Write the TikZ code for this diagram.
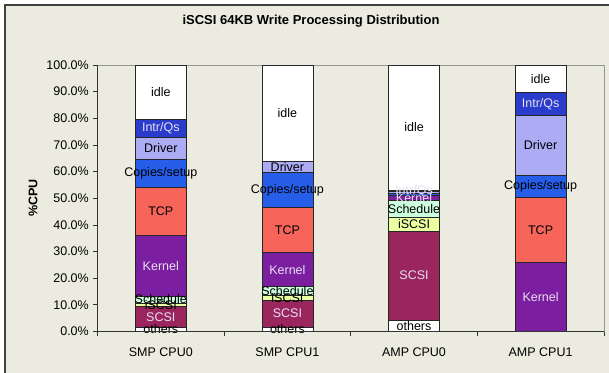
\documentclass[tikz,border=0pt]{standalone}
\usepackage{fontspec}
\setmainfont{Liberation Sans}

\definecolor{bgbeige}{RGB}{236,235,223}
\definecolor{frameline}{RGB}{64,64,64}
\definecolor{plotedge}{RGB}{150,150,150}
\definecolor{cIdle}{RGB}{255,255,255}
\definecolor{cIntr}{RGB}{42,60,204}
\definecolor{cDriver}{RGB}{172,172,245}
\definecolor{cCopies}{RGB}{38,94,234}
\definecolor{cTCP}{RGB}{247,100,90}
\definecolor{cKernel}{RGB}{124,30,160}
\definecolor{cSched}{RGB}{204,255,222}
\definecolor{cISCSI}{RGB}{236,255,160}
\definecolor{cSCSI}{RGB}{155,38,94}
\definecolor{cOthers}{RGB}{255,255,255}
\definecolor{lightlab}{RGB}{232,224,242}

% one stacked column: name, centre x, list of lo/hi/fill/label/text colour (percent)
\newcommand\stackbar[3]{%
  \foreach \lo/\hi/\fc/\lab/\tc in {#3}{%
    \draw[segment, fill=\fc] (#2-25.5,{331.5-2.665*\lo}) rectangle (#2+25.5,{331.5-2.665*\hi});
  }%
  \foreach \lo/\hi/\fc/\lab/\tc [count=\k] in {#3}{%
    \node[seglabel, text=\tc] (#1-\k) at (#2,{331.5-2.665*(\lo+\hi)/2}) {\lab};
  }%
}

\begin{document}
\begin{tikzpicture}[x=1pt,y=-1pt,
  segment/.style={draw=black!85, line width=0.8pt},
  seglabel/.style={font=\fontsize{12.5}{14}\selectfont, inner sep=0pt},
  ticklabel/.style={font=\fontsize{12.5}{14}\selectfont, inner sep=0pt},
  axisline/.style={draw=black!80, line width=0.8pt}]

% page and chart frame
\fill[white] (0,0) rectangle (609,372);
\useasboundingbox (0,0) rectangle (609,372);
\fill[bgbeige] (5,5) rectangle (615,378);
\draw[frameline, line width=1.5pt] (5,378) -- (5,5) -- (615,5);

% title and axis title
\node[font=\bfseries\fontsize{13}{15}\selectfont] (title) at (311,21) {iSCSI 64KB Write Processing Distribution};
\node[font=\bfseries\fontsize{12.5}{14}\selectfont, rotate=90] (ytitle) at (33,198) {\%CPU};

% plot area edges
\draw[plotedge, line width=0.8pt] (97.5,65) -- (604,65) -- (604,331.5);

% value axis
\draw[axisline] (97.5,65) -- (97.5,331.5);
\foreach \p in {0,10,...,100}{%
  \draw[axisline] (93,{331.5-2.665*\p}) -- (97.5,{331.5-2.665*\p});
  \node[ticklabel, anchor=east] (yl\p) at (89,{331.5-2.665*\p}) {\p.0\%};
}

% columns
\stackbar{smpa}{160.8}{0/1.7/cOthers/others/black,
  1.7/9.3/cSCSI/SCSI/lightlab,
  9.3/10.7/cISCSI/iSCSI/black,
  10.7/13.3/cSched/Schedule/black,
  13.3/36.1/cKernel/Kernel/lightlab,
  36.1/54.2/cTCP/TCP/black,
  54.2/64.7/cCopies/{Copies/setup}/black,
  64.7/72.7/cDriver/Driver/black,
  72.7/79.7/cIntr/{Intr/Qs}/lightlab,
  79.7/100/cIdle/idle/black}

\stackbar{smpb}{287.4}{0/1.6/cOthers/others/black,
  1.6/11.8/cSCSI/SCSI/lightlab,
  11.8/13.4/cISCSI/iSCSI/black,
  13.4/16.9/cSched/Schedule/black,
  16.9/29.6/cKernel/Kernel/lightlab,
  29.6/46.6/cTCP/TCP/black,
  46.6/59.6/cCopies/{Copies/setup}/black,
  59.6/63.7/cDriver/Driver/black,
  63.7/100/cIdle/idle/black}

\stackbar{ampa}{414}{0/4.3/cOthers/others/black,
  4.3/37.7/cSCSI/SCSI/lightlab,
  37.7/42.8/cISCSI/iSCSI/black,
  42.8/49.3/cSched/Schedule/black,
  49.3/51.2/cKernel/Kernel/lightlab,
  51.2/51.8/cCopies//black,
  51.8/52.4/cDriver//black,
  52.4/53.1/cIntr/{Intr/Qs}/lightlab,
  53.1/100/cIdle/idle/black}

\stackbar{ampb}{540.6}{0/26.1/cKernel/Kernel/lightlab,
  26.1/50.2/cTCP/TCP/black,
  50.2/58.7/cCopies/{Copies/setup}/black,
  58.7/81.1/cDriver/Driver/black,
  81.1/89.8/cIntr/{Intr/Qs}/lightlab,
  89.8/100/cIdle/idle/black}

% category axis
\draw[axisline] (97.5,331.5) -- (604,331.5);
\foreach \i in {0,...,4}{%
  \draw[axisline] ({97.5+126.6*\i},331.5) -- ({97.5+126.6*\i},336);
}
\node[ticklabel] (xl1) at (160.8,352) {SMP CPU0};
\node[ticklabel] (xl2) at (287.4,352) {SMP CPU1};
\node[ticklabel] (xl3) at (414,352) {AMP CPU0};
\node[ticklabel] (xl4) at (540.6,352) {AMP CPU1};
\end{tikzpicture}
\end{document}
